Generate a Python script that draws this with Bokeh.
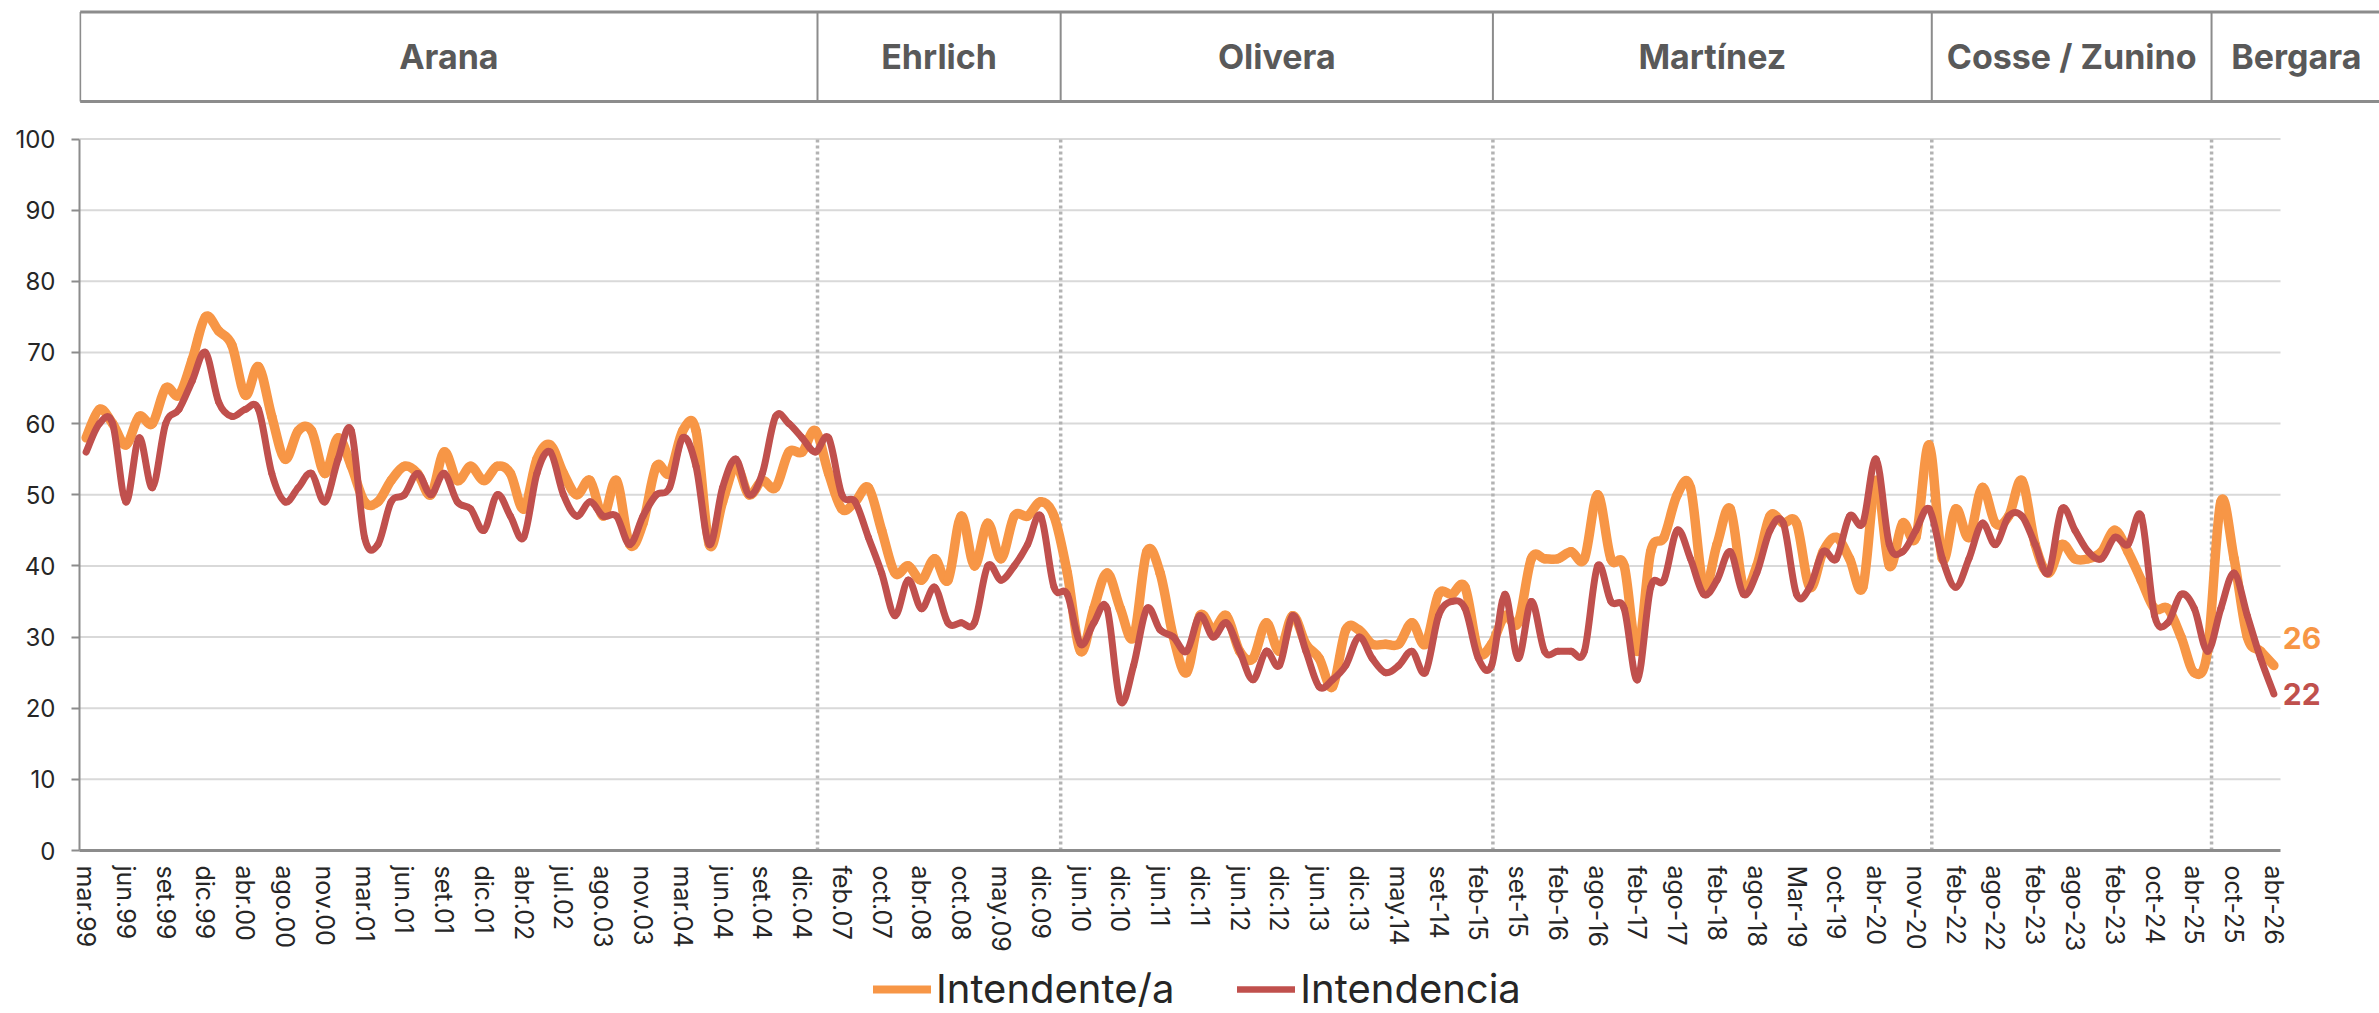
from bokeh.plotting import figure
from bokeh.layouts import column
from bokeh.models import Range1d, FixedTicker, Legend, LegendItem
from bokeh.embed import file_html
from bokeh.resources import INLINE
from bokeh.core.properties import value

# ---------------- data ----------------
tick_labels = ["mar.99", "jun.99", "set.99", "dic.99", "abr.00", "ago.00", "nov.00", "mar.01",
               "jun.01", "set.01", "dic.01", "abr.02", "jul.02", "ago.03", "nov.03", "mar.04",
               "jun.04", "set.04", "dic.04", "feb.07", "oct.07", "abr.08", "oct.08", "may.09",
               "dic.09", "jun.10", "dic.10", "jun.11", "dic.11", "jun.12", "dic.12", "jun.13",
               "dic.13", "may.14", "set-14", "feb-15", "set-15", "feb-16", "ago-16", "feb-17",
               "ago-17", "feb-18", "ago-18", "Mar-19", "oct-19", "abr-20", "nov-20", "feb-22",
               "ago-22", "feb-23", "ago-23", "feb-23", "oct-24", "abr-25", "oct-25", "abr-26"]
label_step = 3

intendente = [58, 62, 60, 57, 61, 60, 65, 64, 69, 75,
              73, 71, 64, 68, 61, 55, 59, 59, 53, 58,
              54, 49, 49, 52, 54, 53, 50, 56, 52, 54,
              52, 54, 53, 48, 55, 57, 53, 50, 52, 47,
              52, 43, 46, 54, 53, 59, 59, 43, 49, 54,
              50, 52, 51, 56, 56, 59, 53, 48, 49, 51,
              45, 39, 40, 38, 41, 38, 47, 40, 46, 41,
              47, 47, 49, 47, 39, 28, 34, 39, 34, 30,
              42, 39, 30, 25, 33, 31, 33, 28, 27, 32,
              28, 33, 29, 27, 23, 31, 31, 29, 29, 29,
              32, 29, 36, 36, 37, 28, 29, 33, 32, 41,
              41, 41, 42, 41, 50, 41, 40, 28, 42, 44,
              50, 51, 37, 43, 48, 37, 40, 47, 46, 46,
              37, 42, 44, 41, 37, 52, 40, 46, 44, 57,
              41, 48, 44, 51, 46, 47, 52, 43, 39, 43,
              41, 41, 42, 45, 42, 38, 34, 34, 30, 25,
              28, 49, 41, 30, 28, 26]

intendencia = [56, 60, 60, 49, 58, 51, 60, 62, 66, 70,
               63, 61, 62, 62, 53, 49, 51, 53, 49, 55,
               59, 44, 43, 49, 50, 53, 50, 53, 49, 48,
               45, 50, 47, 44, 53, 56, 50, 47, 49, 47,
               47, 43, 47, 50, 51, 58, 54, 43, 51, 55,
               50, 53, 61, 60, 58, 56, 58, 50, 49, 44,
               39, 33, 38, 34, 37, 32, 32, 32, 40, 38,
               40, 43, 47, 37, 36, 29, 32, 34, 21, 26,
               34, 31, 30, 28, 33, 30, 32, 28, 24, 28,
               26, 33, 28, 23, 24, 26, 30, 27, 25, 26,
               28, 25, 33, 35, 34, 27, 26, 36, 27, 35,
               28, 28, 28, 28, 40, 35, 34, 24, 37, 38,
               45, 41, 36, 38, 42, 36, 39, 45, 46, 36,
               37, 42, 41, 47, 46, 55, 43, 42, 45, 48,
               41, 37, 41, 46, 43, 47, 47, 43, 39, 48,
               45, 42, 41, 44, 43, 47, 33, 32, 36, 34,
               28, 34, 39, 33, 27, 22]

series_names = ["Intendente/a", "Intendencia"]
periods = ["Arana", "Ehrlich", "Olivera", "Martínez", "Cosse / Zunino", "Bergara"]
# category positions where each administration starts/ends (header edges)
period_bounds = [-0.45, 55.16, 73.5, 106.1, 139.2, 160.3, 173.1]

y_ticks = [0, 10, 20, 30, 40, 50, 60, 70, 80, 90, 100]

# ---------------- layout ----------------
n = len(intendente)
xs = list(range(n))

W = 2379
H_MAIN, H_LEG = 957, 56
BL, BR, BT = 79, 0, 9
FRAME_BOTTOM = 850
BB = H_MAIN - FRAME_BOTTOM
frame_w = W - BL - BR
frame_h = FRAME_BOTTOM - BT
PX_CAT = 2201.0 / n          # pixels per category
PX_UNIT = 711.5 / 100.0      # pixels per percentage point

x_start = -0.5
x_end = x_start + frame_w / PX_CAT
y_end = frame_h / PX_UNIT


def vy(page_px):
    """value corresponding to a page y position"""
    return (FRAME_BOTTOM - page_px) / PX_UNIT


def smooth_segments(ys):
    """cubic bezier pieces through every data point (Excel-like smoothed line)"""
    m = len(ys)
    out = {k: [] for k in ("x0", "y0", "x1", "y1", "cx0", "cy0", "cx1", "cy1")}
    for i in range(m - 1):
        a, b = max(i - 1, 0), min(i + 2, m - 1)
        out["x0"].append(i)
        out["y0"].append(ys[i])
        out["x1"].append(i + 1)
        out["y1"].append(ys[i + 1])
        out["cx0"].append(i + (i + 1 - a) / 6.0)
        out["cy0"].append(ys[i] + (ys[i + 1] - ys[a]) / 6.0)
        out["cx1"].append(i + 1 - (b - i) / 6.0)
        out["cy1"].append(ys[i + 1] - (ys[b] - ys[i]) / 6.0)
    return out


ORANGE = "#F79646"
RED = "#C0504D"
FONT = "Inter"
AXIS_GRAY = "#8c8c8c"
W_OR, W_RD = 9.5, 7

p = figure(width=W, height=H_MAIN, output_backend="svg", toolbar_location=None,
           x_range=Range1d(x_start, x_end), y_range=Range1d(0, y_end),
           min_border_left=BL, min_border_right=BR, min_border_top=BT, min_border_bottom=BB)
p.outline_line_color = None
p.xgrid.visible = False
p.ygrid.visible = False

# horizontal grid lines (plot area only)
p.segment(x0=[x_start] * (len(y_ticks) - 1), x1=[n - 0.5] * (len(y_ticks) - 1),
          y0=y_ticks[1:], y1=y_ticks[1:], line_color="#d9d9d9", line_width=2)

# dotted separators between administrations
inner = period_bounds[1:-1]
p.segment(x0=inner, x1=inner, y0=[0] * len(inner), y1=[y_ticks[-1]] * len(inner),
          line_color="#b3b3b3", line_width=3.5, line_dash="3 3")

# header boxes
h_top, h_bot, h_mid = vy(11.5), vy(101), vy(56)
p.segment(x0=period_bounds[:-1], x1=period_bounds[:-1],
          y0=[h_bot] * (len(period_bounds) - 1), y1=[h_top] * (len(period_bounds) - 1),
          line_color=AXIS_GRAY, line_width=2)
p.segment(x0=[period_bounds[0]] * 2, x1=[period_bounds[-1]] * 2, y0=[h_top, h_bot], y1=[h_top, h_bot],
          line_color=AXIS_GRAY, line_width=3)
centers = [(a + b) / 2 for a, b in zip(period_bounds[:-1], period_bounds[1:])]
p.text(x=centers, y=[h_mid] * len(centers), text=periods, text_align="center",
       text_baseline="middle", text_font=value(FONT), text_font_style="bold",
       text_font_size="34px", text_color="#595959")

# series (smoothed)
p.bezier(line_color=ORANGE, line_width=W_OR, line_cap="round", **smooth_segments(intendente))
p.bezier(line_color=RED, line_width=W_RD, line_cap="round", **smooth_segments(intendencia))

# end labels
p.text(x=[n - 1], y=[intendente[-1]], text=[str(intendente[-1])], x_offset=9, y_offset=-28,
       text_baseline="middle", text_font=value(FONT), text_font_style="bold",
       text_font_size="30px", text_color=ORANGE)
p.text(x=[n - 1], y=[intendencia[-1]], text=[str(intendencia[-1])], x_offset=9, y_offset=0,
       text_baseline="middle", text_font=value(FONT), text_font_style="bold",
       text_font_size="30px", text_color=RED)

# axes
p.yaxis.ticker = FixedTicker(ticks=y_ticks)
p.yaxis.bounds = (0, y_ticks[-1])
p.yaxis.axis_line_color = AXIS_GRAY
p.yaxis.axis_line_width = 2
p.yaxis.major_tick_line_color = AXIS_GRAY
p.yaxis.major_tick_line_width = 2
p.yaxis.major_tick_out = 8
p.yaxis.major_tick_in = 0
p.yaxis.minor_tick_line_color = None
p.yaxis.major_label_standoff = 16
p.yaxis.major_label_text_font = FONT
p.yaxis.major_label_text_font_size = "24px"
p.yaxis.major_label_text_color = "#262626"

tick_pos = [i * label_step for i in range(len(tick_labels))]
p.xaxis.ticker = FixedTicker(ticks=tick_pos)
p.xaxis.major_label_overrides = {t: lab for t, lab in zip(tick_pos, tick_labels)}
p.xaxis.bounds = (-0.5, n - 0.5)
p.xaxis.axis_line_color = AXIS_GRAY
p.xaxis.axis_line_width = 3
p.xaxis.major_tick_line_color = None
p.xaxis.major_tick_out = 0
p.xaxis.major_tick_in = 0
p.xaxis.minor_tick_line_color = None
p.xaxis.major_label_orientation = "vertical"
p.xaxis.major_label_standoff = 15
p.xaxis.major_label_text_font = FONT
p.xaxis.major_label_text_font_size = "25px"
p.xaxis.major_label_text_color = "#262626"

# legend strip below the chart (its frame is aligned with the chart frame)
q = figure(width=W, height=H_LEG, output_backend="svg", toolbar_location=None,
           x_range=Range1d(0, W), y_range=Range1d(0, H_LEG),
           x_axis_location=None, y_axis_location=None,
           min_border_left=0, min_border_right=0, min_border_top=0, min_border_bottom=0)
q.outline_line_color = None
q.xgrid.visible = False
q.ygrid.visible = False
# legend-only renderers: their single segment lies outside the visible range
k1 = q.line(x=[-200, -100], y=[-100, -100], line_color=ORANGE, line_width=8, line_cap="round")
k2 = q.line(x=[-200, -100], y=[-100, -100], line_color=RED, line_width=6.5, line_cap="round")
legend = Legend(items=[LegendItem(label=series_names[0], renderers=[k1]),
                       LegendItem(label=series_names[1], renderers=[k2])],
                orientation="horizontal", location=(873 - BL, 0),
                glyph_width=58, glyph_height=46, label_height=46, label_standoff=5, spacing=63,
                padding=0, margin=0, border_line_color=None, background_fill_alpha=0,
                label_text_font=FONT, label_text_font_size="40px", label_text_color="#262626")
q.add_layout(legend, "center")

layout = column(p, q, spacing=0)
open("out.html", "w").write(file_html(layout, INLINE))
